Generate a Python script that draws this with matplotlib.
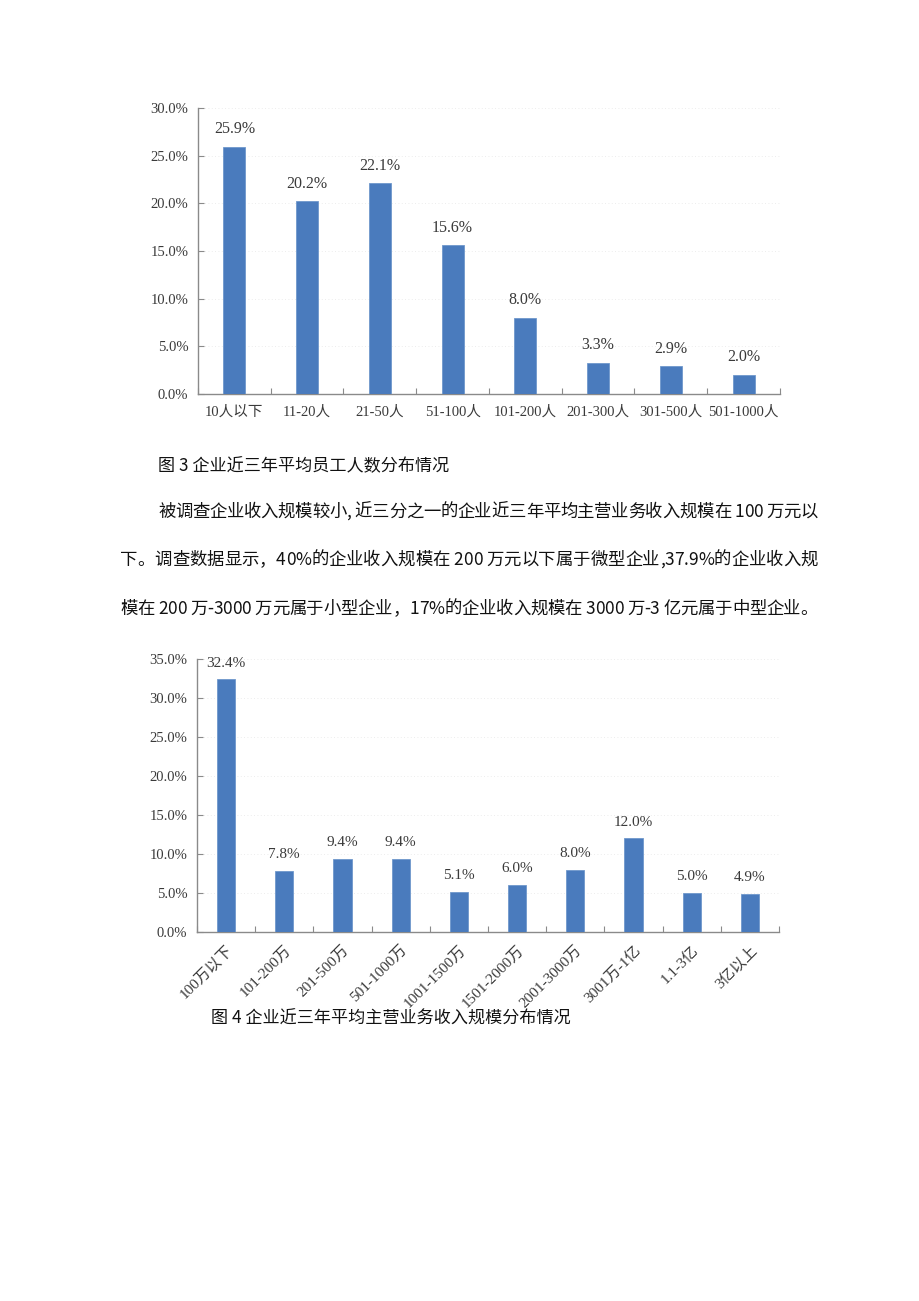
import matplotlib
matplotlib.use("Agg")
import matplotlib.pyplot as plt
from matplotlib.font_manager import FontProperties

# ---- data ----
staff_cats = ["10人以下", "11-20人", "21-50人", "51-100人", "101-200人",
              "201-300人", "301-500人", "501-1000人"]
staff_vals = [25.9, 20.2, 22.1, 15.6, 8.0, 3.3, 2.9, 2.0]

income_cats = ["100万以下", "101-200万", "201-500万", "501-1000万", "1001-1500万",
               "1501-2000万", "2001-3000万", "3001万-1亿", "1.1-3亿", "3亿以上"]
income_vals = [32.4, 7.8, 9.4, 9.4, 5.1, 6.0, 8.0, 12.0, 5.0, 4.9]

caption3 = "图 3 企业近三年平均员工人数分布情况"
caption4 = "图 4 企业近三年平均主营业务收入规模分布情况"
para_lines = [
    "被调查企业收入规模较小, 近三分之一的企业近三年平均主营业务收入规模在 100 万元以",
    "下。调查数据显示，40%的企业收入规模在 200 万元以下属于微型企业,37.9%的企业收入规",
    "模在 200 万-3000 万元属于小型企业，17%的企业收入规模在 3000 万-3 亿元属于中型企业。",
]

W, H = 920, 1301
BAR = "#4a7bbd"
AXC = "#8a8a8a"
TXT = "#3a3a3a"
SERIF = ["Liberation Serif", "Noto Sans CJK SC"]
SANS = ["Noto Sans CJK SC", "DejaVu Sans"]

fig = plt.figure(figsize=(W / 100, H / 100), dpi=100)
fig.patch.set_facecolor("white")


def px_axes(x0, y_top, x1, y_bot):
    return fig.add_axes([x0 / W, 1 - y_bot / H, (x1 - x0) / W, (y_bot - y_top) / H])


def bar_chart(ax, cats, vals, ymax, width, lab_size, rot, xsize):
    x = range(len(cats))
    ax.bar(x, vals, width=width, color=BAR, edgecolor="#6f98cc", linewidth=0.6, zorder=3)
    for xi, v in zip(x, vals):
        ax.annotate(f"{v:.1f}%", (xi, v), xytext=(0, 7), textcoords="offset points",
                    ha="center", va="bottom", fontsize=lab_size, color=TXT, family=SERIF)
    ax.set_xlim(-0.5, len(cats) - 0.5)
    ax.set_ylim(0, ymax)
    ticks = [i * 5 for i in range(int(ymax / 5) + 1)]
    ax.set_yticks(ticks)
    ax.set_yticklabels([f"{t:.1f}%" for t in ticks], family=SERIF, fontsize=10.5, color=TXT)
    ax.set_xticks([i + 0.5 for i in range(-1, len(cats))], minor=False)
    ax.set_xticklabels([])
    ax.set_xticks(list(x), minor=True)
    if rot:
        ax.set_xticklabels(cats, minor=True, rotation=45, ha="right", va="top",
                           rotation_mode="anchor", family=SERIF, fontsize=xsize, color=TXT)
    else:
        ax.set_xticklabels(cats, minor=True, family=SERIF, fontsize=xsize, color=TXT)
    ax.tick_params(axis="x", which="minor", length=0, pad=8)
    ax.tick_params(axis="x", which="major", direction="in", length=4, color=AXC)
    ax.tick_params(axis="y", direction="in", length=4, color=AXC, pad=7)
    ax.grid(axis="y", linestyle=(0, (1, 3)), color="#e6e6e6", linewidth=0.6, zorder=0)
    for s in ["top", "right"]:
        ax.spines[s].set_visible(False)
    for s in ["left", "bottom"]:
        ax.spines[s].set_color(AXC)
        ax.spines[s].set_linewidth(1.0)


ax1 = px_axes(198, 108, 780, 394)
bar_chart(ax1, staff_cats, staff_vals, 30, 0.30, 11.5, False, 10.5)

ax2 = px_axes(197, 659, 779, 932)
bar_chart(ax2, income_cats, income_vals, 35, 0.31, 11, True, 11)

# captions
fig.text(158 / W, 1 - 466 / H, caption3, family=SANS, fontsize=12.3, color="#111111",
         ha="left", va="center")
fig.text(211 / W, 1 - 1019 / H, caption4, family=SANS, fontsize=12.3, color="#111111",
         ha="left", va="center")

# justified paragraph, drawn char by char
renderer = fig.canvas.get_renderer()
prop = FontProperties(family=SANS, size=12.5)
line_specs = [(158, 818, 512), (120, 818, 560), (120, 818, 609)]
for text, (xs, xe, yc) in zip(para_lines, line_specs):
    widths = [renderer.get_text_width_height_descent(c, prop, ismath=False)[0] for c in text]
    gap = (xe - xs - sum(widths)) / (len(text) - 1)
    xpos = xs
    for c, w in zip(text, widths):
        fig.text(xpos / W, 1 - yc / H, c, fontproperties=prop, color="#111111",
                 ha="left", va="center")
        xpos += w + gap

fig.savefig("out.png", dpi=100, facecolor="white")
